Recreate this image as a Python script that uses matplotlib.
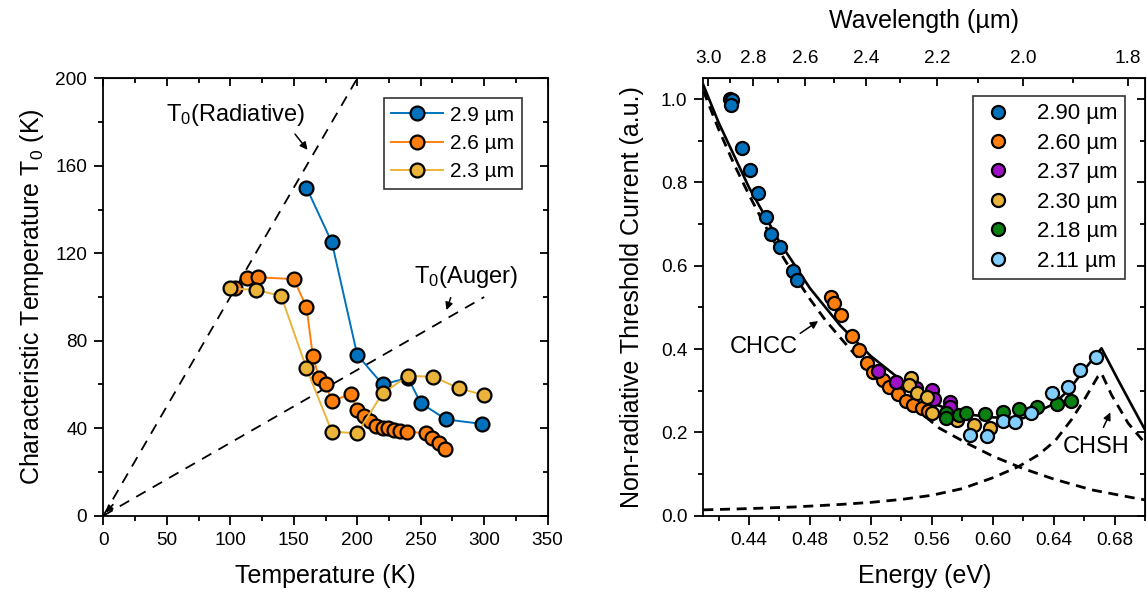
import matplotlib
matplotlib.use("Agg")
import matplotlib.pyplot as plt
from matplotlib.ticker import MultipleLocator, FixedLocator

plt.rcParams['font.family'] = ['Liberation Sans', 'DejaVu Sans']
plt.rcParams['mathtext.fontset'] = 'custom'
plt.rcParams['mathtext.rm'] = 'Liberation Sans'
plt.rcParams['mathtext.it'] = 'Liberation Sans'

# ---------------- Left panel data ----------------
T_29 = [160, 180, 200, 220, 240, 250, 270, 298]
T0_29 = [150, 125, 73.5, 60, 63, 51.5, 44, 42]

T_26 = [104, 113, 122, 150, 160, 165, 170, 175, 180, 195, 200, 205, 210, 215,
        220, 224, 229, 234, 239, 254, 259, 264, 269]
T0_26 = [104, 108.8, 109, 108.2, 95.4, 73.1, 62.8, 60.3, 52.4, 55.6, 48.5, 45.7,
         43.5, 41, 40.2, 40, 39.3, 38.6, 38.4, 37.7, 35.4, 33.4, 30.3]

T_23 = [100, 120, 140, 160, 180, 200, 220, 240, 260, 280, 300]
T0_23 = [104, 103.2, 100.6, 67.4, 38.4, 37.7, 56, 63.9, 63.6, 58.2, 55.2]

left_labels = ['2.9 \u00b5m', '2.6 \u00b5m', '2.3 \u00b5m']
left_colors = ['#0072BD', '#FF7F0E', '#EAB33A']

rad_T = [0, 200]
rad_T0 = [0, 200]
aug_T = [0, 300]
aug_T0 = [0, 100]

# ---------------- Right panel data ----------------
E_290 = [0.4274, 0.4290, 0.4280, 0.4355, 0.4405, 0.4456, 0.4510, 0.4543, 0.4601, 0.4688, 0.4717]
I_290 = [1.000, 0.998, 0.985, 0.883, 0.830, 0.774, 0.718, 0.676, 0.646, 0.587, 0.567]

E_260 = [0.4935, 0.4956, 0.5005, 0.5074, 0.5124, 0.5174, 0.5211, 0.5277, 0.5320, 0.5381,
         0.5433, 0.5477, 0.5538, 0.5575]
I_260 = [0.526, 0.510, 0.483, 0.431, 0.398, 0.367, 0.346, 0.326, 0.308, 0.292,
         0.276, 0.266, 0.258, 0.252]

E_237 = [0.5244, 0.5364, 0.5495, 0.5603, 0.5614, 0.5719, 0.5722]
I_237 = [0.348, 0.320, 0.306, 0.302, 0.279, 0.274, 0.262]

E_230 = [0.5462, 0.5451, 0.5505, 0.5571, 0.5603, 0.5767, 0.5876, 0.5985]
I_230 = [0.330, 0.314, 0.294, 0.286, 0.246, 0.230, 0.218, 0.210]

E_218 = [0.5691, 0.5691, 0.5778, 0.5822, 0.5948, 0.6065, 0.6170, 0.6290, 0.6420, 0.6514]
I_218 = [0.246, 0.234, 0.242, 0.246, 0.244, 0.250, 0.255, 0.262, 0.268, 0.276]

E_211 = [0.5848, 0.5963, 0.6065, 0.6148, 0.6253, 0.6388, 0.6492, 0.6573, 0.6675]
I_211 = [0.194, 0.191, 0.228, 0.226, 0.246, 0.294, 0.308, 0.350, 0.382]

right_labels = ['2.90 \u00b5m', '2.60 \u00b5m', '2.37 \u00b5m', '2.30 \u00b5m', '2.18 \u00b5m', '2.11 \u00b5m']
right_colors = ['#0072BD', '#FF7F0E', '#A012C8', '#EAB33A', '#0A8012', '#82CFFF']

# model curves
E_chcc = [0.41, 0.42, 0.43, 0.44, 0.45, 0.46, 0.47, 0.48, 0.49, 0.50, 0.51, 0.52, 0.53, 0.54,
          0.55, 0.565, 0.583, 0.60, 0.62, 0.64, 0.665, 0.695, 0.70]
I_chcc = [1.02, 0.928, 0.845, 0.77, 0.70, 0.635, 0.575, 0.52, 0.47, 0.427, 0.385, 0.35, 0.315,
          0.284, 0.255, 0.21, 0.174, 0.143, 0.113, 0.088, 0.062, 0.041, 0.038]

E_chsh = [0.41, 0.44, 0.47, 0.50, 0.52, 0.54, 0.56, 0.58, 0.60, 0.617, 0.63, 0.641,
          0.652, 0.661, 0.669, 0.6714, 0.678, 0.6889, 0.70]
I_chsh = [0.014, 0.017, 0.021, 0.027, 0.032, 0.039, 0.049, 0.065, 0.091, 0.118, 0.146, 0.18,
          0.232, 0.284, 0.334, 0.342, 0.29, 0.222, 0.174]

E_tot = [0.41, 0.42, 0.44, 0.46, 0.48, 0.50, 0.52, 0.54, 0.56, 0.58, 0.60, 0.62, 0.64,
         0.65, 0.66, 0.6714, 0.6823, 0.6911, 0.70]
I_tot = [1.034, 0.944, 0.788, 0.657, 0.546, 0.456, 0.383, 0.325, 0.27, 0.245, 0.236, 0.234,
         0.268, 0.302, 0.35, 0.402, 0.326, 0.266, 0.206]

wl_major = [3.0, 2.8, 2.6, 2.4, 2.2, 2.0, 1.8]
wl_minor = [2.9, 2.7, 2.5, 2.3, 2.1, 1.9]

# ---------------- Figure ----------------
fig = plt.figure(figsize=(11.47, 5.92), dpi=100)
axL = fig.add_axes([0.0901, 0.1289, 0.3874, 0.7388])
axR = fig.add_axes([0.6132, 0.1289, 0.3851, 0.7388])

TICK_FS = 13.7
LABEL_FS = 18
ANN_FS = 17
lw_sp = 1.3

def style_axes(ax):
    for s in ax.spines.values():
        s.set_linewidth(lw_sp)
    ax.tick_params(which='both', width=lw_sp, labelsize=TICK_FS, pad=5)
    ax.tick_params(which='major', length=6.5)
    ax.tick_params(which='minor', length=3.8)
    ax.tick_params(axis='both', which='both', direction='out', top=False, right=False)

def mirror_ticks(ax, xmaj, xmin, ymaj, ymin, top=True):
    if top:
        axT = ax.secondary_xaxis('top')
        axT.xaxis.set_major_locator(MultipleLocator(xmaj))
        axT.xaxis.set_minor_locator(MultipleLocator(xmin))
        axT.tick_params(which='both', direction='in', width=lw_sp, labeltop=False)
        axT.tick_params(which='major', length=6)
        axT.tick_params(which='minor', length=3.5)
    axRt = ax.secondary_yaxis('right')
    axRt.yaxis.set_major_locator(MultipleLocator(ymaj))
    axRt.yaxis.set_minor_locator(MultipleLocator(ymin))
    axRt.tick_params(which='both', direction='in', width=lw_sp, labelright=False)
    axRt.tick_params(which='major', length=6)
    axRt.tick_params(which='minor', length=3.5)

arrow_kw = dict(arrowstyle='-|>', color='k', lw=1.1, mutation_scale=11)

# ----- left -----
style_axes(axL)
axL.plot(rad_T, rad_T0, ls=(0, (6, 4.5)), color='k', lw=1.3, zorder=1)
axL.plot(aug_T, aug_T0, ls=(0, (6, 4.5)), color='k', lw=1.3, zorder=1)
axL.annotate('', xy=(0.5, 0.5), xytext=(9, 6),
             arrowprops=dict(arrowstyle='-|>', color='k', lw=1.2, mutation_scale=10), zorder=2)

for T, T0, c, lab in zip([T_29, T_26, T_23], [T0_29, T0_26, T0_23], left_colors, left_labels):
    axL.plot(T, T0, '-o', color=c, lw=1.4, ms=10, mfc=c, mec='k', mew=1.6, label=lab, zorder=3)

axL.set_xlim(0, 350)
axL.set_ylim(0, 200)
axL.xaxis.set_major_locator(MultipleLocator(50))
axL.xaxis.set_minor_locator(MultipleLocator(25))
axL.yaxis.set_major_locator(MultipleLocator(40))
axL.yaxis.set_minor_locator(MultipleLocator(20))
axL.set_xlabel('Temperature (K)', fontsize=LABEL_FS, labelpad=11)
axL.set_ylabel('Characteristic Temperature T$_0$ (K)', fontsize=LABEL_FS, labelpad=7)

axL.text(49, 183, 'T$_0$(Radiative)', fontsize=ANN_FS, ha='left', va='center')
axL.annotate('', xy=(162.2, 166.3), xytext=(149.6, 175.5), arrowprops=arrow_kw)
axL.text(245, 109, 'T$_0$(Auger)', fontsize=ANN_FS, ha='left', va='center')
axL.annotate('', xy=(269.6, 92.8), xytext=(274.3, 100.9), arrowprops=arrow_kw)

mirror_ticks(axL, 50, 25, 40, 20)

legL = axL.legend(loc='upper right', bbox_to_anchor=(0.9415, 0.954), fontsize=15,
                  frameon=True, fancybox=False, edgecolor='k', handlelength=2.5,
                  handletextpad=0.35, labelspacing=0.45, borderpad=0.35, borderaxespad=0)
legL.get_frame().set_linewidth(1.2)

# ----- right -----
style_axes(axR)
axR.plot(E_chcc, I_chcc, ls=(0, (3.6, 2.4)), color='k', lw=2.0, zorder=1)
axR.plot(E_chsh, I_chsh, ls=(0, (3.6, 2.4)), color='k', lw=2.0, zorder=1)
axR.plot(E_tot, I_tot, '-', color='k', lw=1.9, zorder=1)

series_E = [E_290, E_260, E_237, E_230, E_218, E_211]
series_I = [I_290, I_260, I_237, I_230, I_218, I_211]
for E, I, c, lab in zip(series_E, series_I, right_colors, right_labels):
    axR.plot(E, I, 'o', ls='none', ms=9.4, mfc=c, mec='k', mew=1.6, label=lab, zorder=3)

axR.set_xlim(0.41, 0.70)
axR.set_ylim(0, 1.05)
axR.xaxis.set_major_locator(MultipleLocator(0.04))
axR.xaxis.set_minor_locator(MultipleLocator(0.02))
axR.yaxis.set_major_locator(MultipleLocator(0.2))
axR.yaxis.set_minor_locator(MultipleLocator(0.1))
axR.xaxis.set_major_formatter(plt.FuncFormatter(lambda v, p: f'{v:.2f}'))
axR.yaxis.set_major_formatter(plt.FuncFormatter(lambda v, p: f'{v:.1f}'))
axR.set_xlabel('Energy (eV)', fontsize=LABEL_FS, labelpad=11)
axR.set_ylabel('Non-radiative Threshold Current (a.u.)', fontsize=LABEL_FS, labelpad=12)

axR.text(0.4275, 0.406, 'CHCC', fontsize=ANN_FS, ha='left', va='center')
axR.annotate('', xy=(0.4869, 0.471), xytext=(0.4721, 0.434), arrowprops=arrow_kw)
axR.text(0.6462, 0.166, 'CHSH', fontsize=ANN_FS, ha='left', va='center')
axR.annotate('', xy=(0.678, 0.254), xytext=(0.6719, 0.206), arrowprops=arrow_kw)

mirror_ticks(axR, 0.04, 0.02, 0.2, 0.1, top=False)

# top wavelength axis
axW = axR.secondary_xaxis('top')
axW.xaxis.set_major_locator(FixedLocator([1.24 / w for w in wl_major]))
axW.xaxis.set_minor_locator(FixedLocator([1.24 / w for w in wl_minor]))
axW.set_xticklabels([f'{w:.1f}' for w in wl_major])
axW.tick_params(which='both', direction='in', width=lw_sp, labelsize=TICK_FS, pad=8)
axW.tick_params(which='major', length=6)
axW.tick_params(which='minor', length=3.5)
axW.set_xlabel('Wavelength (\u00b5m)', fontsize=LABEL_FS, labelpad=16)

legR = axR.legend(loc='upper right', bbox_to_anchor=(0.9547, 0.9595), fontsize=16,
                  frameon=True, fancybox=False, edgecolor='k', handlelength=1.6,
                  handletextpad=0.95, labelspacing=0.38, borderpad=0.33, borderaxespad=0)
legR.get_frame().set_linewidth(1.2)

fig.savefig('out.png', dpi=100)
